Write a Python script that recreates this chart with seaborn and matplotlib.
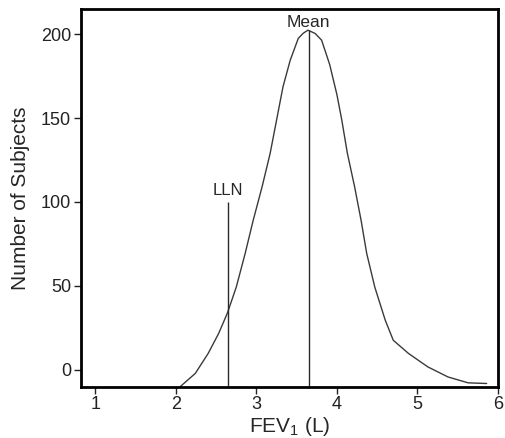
import numpy as np
import pandas as pd
import matplotlib
matplotlib.use("Agg")
import matplotlib.pyplot as plt
import seaborn as sns

# FEV1 distribution curve
fev1 = [2.05, 2.24, 2.40, 2.53, 2.64, 2.75, 2.86, 2.96, 3.07, 3.17, 3.25, 3.33,
        3.42, 3.52, 3.58, 3.64, 3.73, 3.81, 3.91, 4.00, 4.06, 4.13, 4.22, 4.30,
        4.37, 4.47, 4.60, 4.70, 4.89, 5.13, 5.38, 5.63, 5.86]
subjects = [-10.3, -2.3, 9.6, 21.5, 33.8, 49.3, 69.3, 89.1, 109.0, 128.9, 148.8, 168.7,
            184.6, 197.6, 200.6, 202.5, 200.5, 196.5, 182.0, 164.0, 149.0, 129.0, 109.0, 89.1,
            69.3, 49.3, 29.5, 17.5, 9.6, 1.6, -4.4, -7.9, -8.3]

lln_x, lln_top = 2.65, 100
mean_x, mean_top = 3.65, 202.5

x_ticks = [1, 2, 3, 4, 5, 6]
y_ticks = [0, 50, 100, 150, 200]

df = pd.DataFrame({"fev1": fev1, "subjects": subjects})

sns.set_theme(style="ticks")
plt.rcParams["font.family"] = ["Liberation Sans", "DejaVu Sans"]
plt.rcParams["mathtext.fontset"] = "custom"
plt.rcParams["mathtext.rm"] = "Liberation Sans"

fig = plt.figure(figsize=(5.06, 4.38), dpi=100)
ax = fig.add_axes([0.160, 0.116, 0.824, 0.863])

sns.lineplot(data=df, x="fev1", y="subjects", color="#3a3a3a", linewidth=1.0,
             sort=False, ax=ax)

ax.vlines(lln_x, -10.5, lln_top, color="#2a2a2a", linewidth=1.0)
ax.vlines(mean_x, -10.5, mean_top, color="#2a2a2a", linewidth=1.0)
ax.text(lln_x, 104, "LLN", ha="center", va="baseline", fontsize=12)
ax.text(mean_x, 204.5, "Mean", ha="center", va="baseline", fontsize=12.5)

ax.set_xlim(0.82, 6.0)
ax.set_ylim(-10.5, 215)
ax.set_xticks(x_ticks)
ax.set_yticks(y_ticks)
ax.tick_params(axis="x", labelsize=13, length=5, width=1, pad=1, colors="#222222")
ax.tick_params(axis="y", labelsize=13, length=5, width=1, pad=2, colors="#222222")
ax.set_xlabel(r"FEV$_\mathregular{1}$ (L)", fontsize=15, labelpad=2)
ax.set_ylabel("Number of Subjects", fontsize=15, labelpad=8)

for side in ["left", "bottom", "top", "right"]:
    ax.spines[side].set_visible(True)
    ax.spines[side].set_linewidth(2.0)
    ax.spines[side].set_color("black")

fig.savefig("out.png", dpi=100)
